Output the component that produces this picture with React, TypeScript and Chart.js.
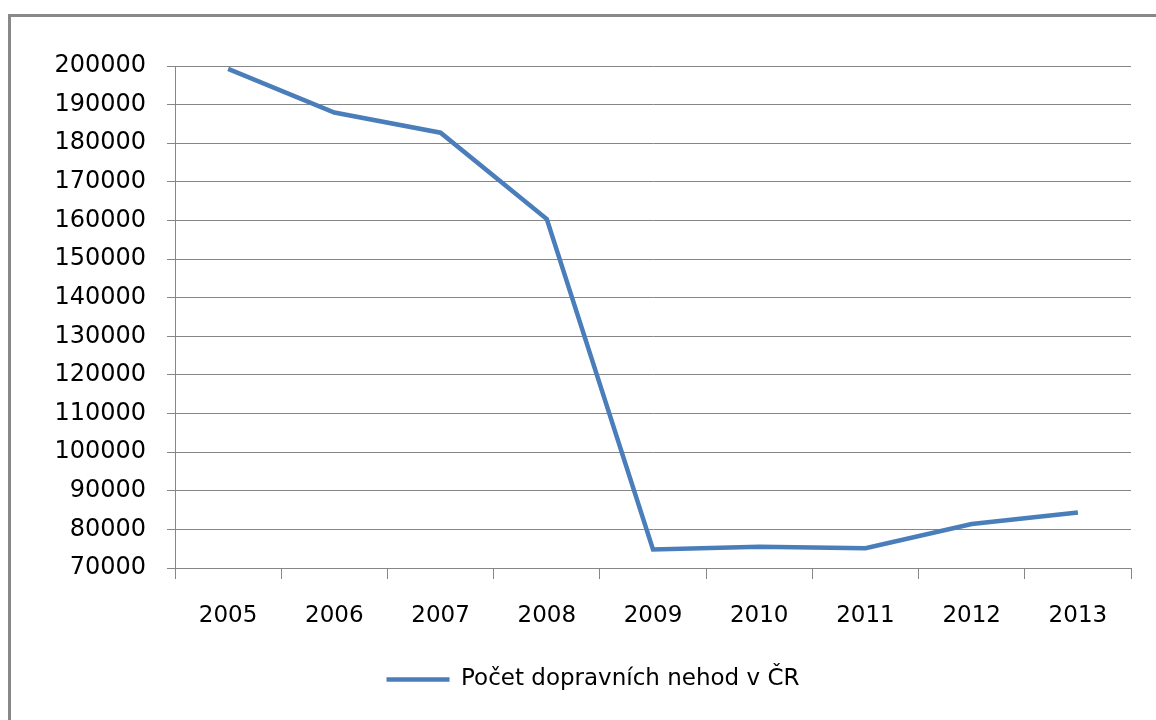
import React, { useEffect, useRef } from 'react';
import { Chart, registerables } from 'chart.js';

Chart.register(...registerables);

const years = ['2005', '2006', '2007', '2008', '2009', '2010', '2011', '2012', '2013'];
const accidents = [199262, 187965, 182736, 160376, 74815, 75522, 75137, 81404, 84398];
const seriesLabel = 'Počet dopravních nehod v ČR';
const yMin = 70000;
const yMax = 200000;
const yStep = 10000;

const FONT = '"DejaVu Sans", sans-serif';
const GRID = '#868686';
const BLUE = '#4A7EBB';

const framePlugin = {
  id: 'frame',
  beforeDraw(chart: any) {
    const ctx = chart.ctx;
    ctx.save();
    ctx.fillStyle = '#ffffff';
    ctx.fillRect(0, 0, chart.width, chart.height);
    ctx.fillStyle = '#888888';
    ctx.fillRect(8, 14, 3, chart.height - 14);
    ctx.fillRect(8, 14, chart.width - 8, 3);
    ctx.restore();
  },
};

export default function App() {
  const ref = useRef<HTMLCanvasElement | null>(null);

  useEffect(() => {
    if (!ref.current) return;
    const chart = new Chart(ref.current, {
      type: 'line',
      data: {
        labels: years,
        datasets: [
          {
            label: seriesLabel,
            data: accidents,
            borderColor: BLUE,
            backgroundColor: BLUE,
            borderWidth: 4.5,
            pointRadius: 0,
            pointHoverRadius: 0,
            tension: 0,
            fill: false,
            pointStyle: 'line',
          },
        ],
      },
      options: {
        animation: false,
        responsive: true,
        maintainAspectRatio: false,
        layout: { padding: { left: 55, right: 25, top: 66, bottom: 19 } },
        plugins: {
          legend: {
            position: 'bottom',
            labels: {
              usePointStyle: true,
              pointStyle: 'line',
              pointStyleWidth: 63,
              color: '#000',
              font: { family: FONT, size: 23 },
              padding: 10,
            },
          },
          tooltip: { enabled: false },
        },
        scales: {
          x: {
            type: 'category',
            offset: true,
            grid: {
              offset: true,
              drawOnChartArea: false,
              drawTicks: true,
              tickLength: 11,
              color: GRID,
              lineWidth: 1,
            },
            border: { display: true, color: GRID, width: 1 },
            ticks: {
              color: '#000',
              font: { family: FONT, size: 23 },
              padding: 23,
              maxRotation: 0,
              autoSkip: false,
            },
            afterFit: (s: any) => {
              s.height = 90;
            },
          },
          y: {
            min: yMin,
            max: yMax,
            grid: {
              color: GRID,
              lineWidth: 1,
              drawTicks: true,
              tickLength: 8,
            },
            border: { display: true, color: GRID, width: 1 },
            ticks: {
              stepSize: yStep,
              color: '#000',
              font: { family: FONT, size: 24 },
              padding: 21,
              callback: (v: any) => String(v),
            },
            afterFit: (s: any) => {
              s.width = 120;
            },
          },
        },
      },
      plugins: [framePlugin],
    });
    return () => chart.destroy();
  }, []);

  return (
    <div style={{ position: 'fixed', left: 0, top: 0, width: 1156, height: 720, background: '#fff' }}>
      <canvas ref={ref} style={{ display: 'block' }} />
    </div>
  );
}
